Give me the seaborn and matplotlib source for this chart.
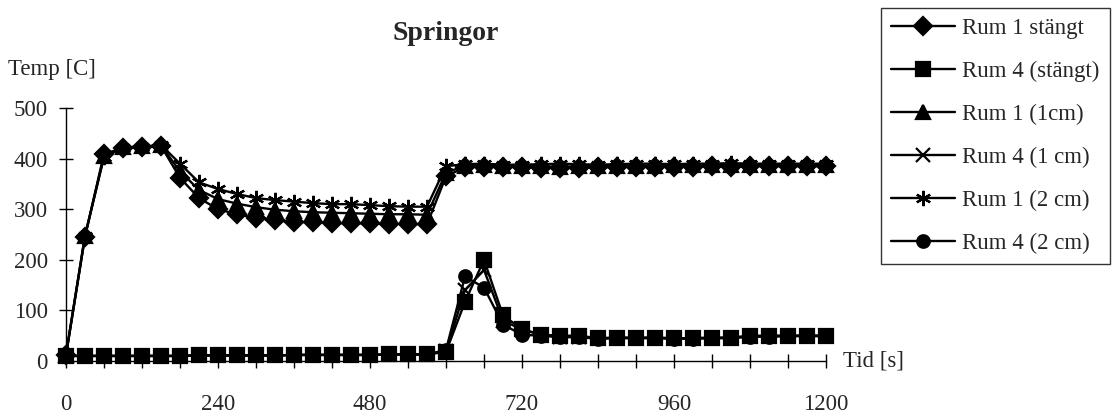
import numpy as np
import pandas as pd
import seaborn as sns
import matplotlib
matplotlib.use("Agg")
import matplotlib.pyplot as plt

# ---------------- data ----------------
time_s = [0, 30, 60, 90, 120, 150, 180, 210, 240, 270, 300, 330, 360, 390, 420,
          450, 480, 510, 540, 570, 600, 630, 660, 690, 720, 750, 780, 810, 840,
          870, 900, 930, 960, 990, 1020, 1050, 1080, 1110, 1140, 1170, 1200]

rum1_stangt = [12, 245, 410, 420, 423, 425, 362, 322, 300, 290, 283, 278, 275,
               274, 273, 272, 272, 271, 271, 270, 365, 383, 384, 383, 384, 382,
               381, 382, 383, 383, 384, 383, 384, 384, 385, 384, 385, 385, 385,
               385, 385]
rum4_stangt = [10, 10, 10, 10, 10, 10, 10, 11, 11, 11, 11, 11, 12, 12, 12, 12,
               12, 13, 13, 13, 18, 117, 200, 90, 63, 52, 50, 50, 45, 46, 46, 46,
               45, 45, 46, 46, 50, 50, 50, 50, 50]
rum1_1cm = [12, 247, 405, 422, 424, 426, 375, 338, 320, 311, 304, 299, 296,
            294, 293, 292, 291, 290, 290, 289, 372, 386, 387, 386, 386, 385,
            384, 385, 386, 386, 386, 386, 387, 387, 387, 387, 387, 388, 388,
            387, 387]
rum4_1cm = [10, 10, 10, 10, 10, 10, 10, 11, 11, 11, 11, 11, 12, 12, 12, 12,
            12, 13, 13, 13, 20, 140, 180, 80, 62, 52, 48, 48, 45, 46, 46, 46,
            45, 45, 46, 46, 49, 49, 50, 50, 50]
rum1_2cm = [12, 248, 403, 421, 423, 427, 390, 353, 340, 330, 322, 318, 315,
            312, 310, 310, 308, 306, 305, 305, 385, 389, 390, 388, 388, 389,
            390, 389, 388, 389, 390, 390, 389, 390, 390, 391, 390, 390, 390,
            390, 390]
rum4_2cm = [10, 10, 10, 10, 10, 10, 10, 11, 11, 11, 11, 11, 12, 12, 12, 12,
            12, 13, 13, 13, 22, 167, 145, 72, 52, 50, 47, 47, 44, 45, 45, 45,
            44, 44, 45, 45, 48, 48, 49, 49, 49]

series_names = ["Rum 1 stängt", "Rum 4 (stängt)", "Rum 1 (1cm)",
                "Rum 4 (1 cm)", "Rum 1 (2 cm)", "Rum 4 (2 cm)"]
series_values = [rum1_stangt, rum4_stangt, rum1_1cm, rum4_1cm, rum1_2cm, rum4_2cm]

y_ticks = [0, 100, 200, 300, 400, 500]
x_label_ticks = [0, 240, 480, 720, 960, 1200]

# ---------------- style ----------------
sns.set_style("white")
plt.rcParams["font.family"] = ["Liberation Serif", "DejaVu Serif"]

markers = ["D", "s", "^", "x", (6, 2, 0), "o"]
msizes = [9, 9.5, 9.5, 9.5, 11, 9]

fig = plt.figure(figsize=(11.12, 4.16), dpi=100)
ax = fig.add_axes([66 / 1112, 55 / 416, 760 / 1112, 253 / 416])

for name, vals, mk, ms in zip(series_names, series_values, markers, msizes):
    df = pd.DataFrame({"t": time_s, "v": vals})
    sns.lineplot(data=df, x="t", y="v", ax=ax, color="black", linewidth=1.7,
                 marker=mk, markersize=ms, markeredgecolor="black",
                 markerfacecolor="black", markeredgewidth=1.6, label=name,
                 clip_on=False)

ax.set_xlim(0, 1200)
ax.set_ylim(0, 500)
ax.set_xlabel("")
ax.set_ylabel("")

for s in ["top", "right"]:
    ax.spines[s].set_visible(False)
for s in ["left", "bottom"]:
    ax.spines[s].set_color("black")
    ax.spines[s].set_linewidth(1.0)

ax.set_yticks(y_ticks)
ax.set_yticklabels([str(v) for v in y_ticks], fontsize=16.5)
xt = list(range(0, 1201, 60))
ax.set_xticks(xt)
ax.set_xticklabels([str(v) if v in x_label_ticks else "" for v in xt], fontsize=16.5)
ax.tick_params(axis="y", left=True, direction="inout", length=10, width=1,
               color="black", pad=8)
ax.tick_params(axis="x", bottom=True, direction="inout", length=10, width=1,
               color="black", pad=19)

fig.text(8 / 1112, 1 - 70 / 416, "Temp [C]", fontsize=16.5, ha="left", va="center")
fig.text(843 / 1112, 1 - 361 / 416, "Tid [s]", fontsize=16.5, ha="left", va="center")
fig.text(446 / 1112, 1 - 33 / 416, "Springor", fontsize=20, fontweight="bold",
         ha="center", va="center")

leg = ax.legend(loc="upper right", bbox_to_anchor=(1110 / 1112, 1 - 8 / 416),
                bbox_transform=fig.transFigure, frameon=True, fancybox=False,
                edgecolor="black", fontsize=16.5, handlelength=2.8,
                labelspacing=0.95, borderpad=0.45, handletextpad=0.3,
                borderaxespad=0)
leg.get_frame().set_linewidth(1.0)

fig.savefig("out.png", dpi=100)
